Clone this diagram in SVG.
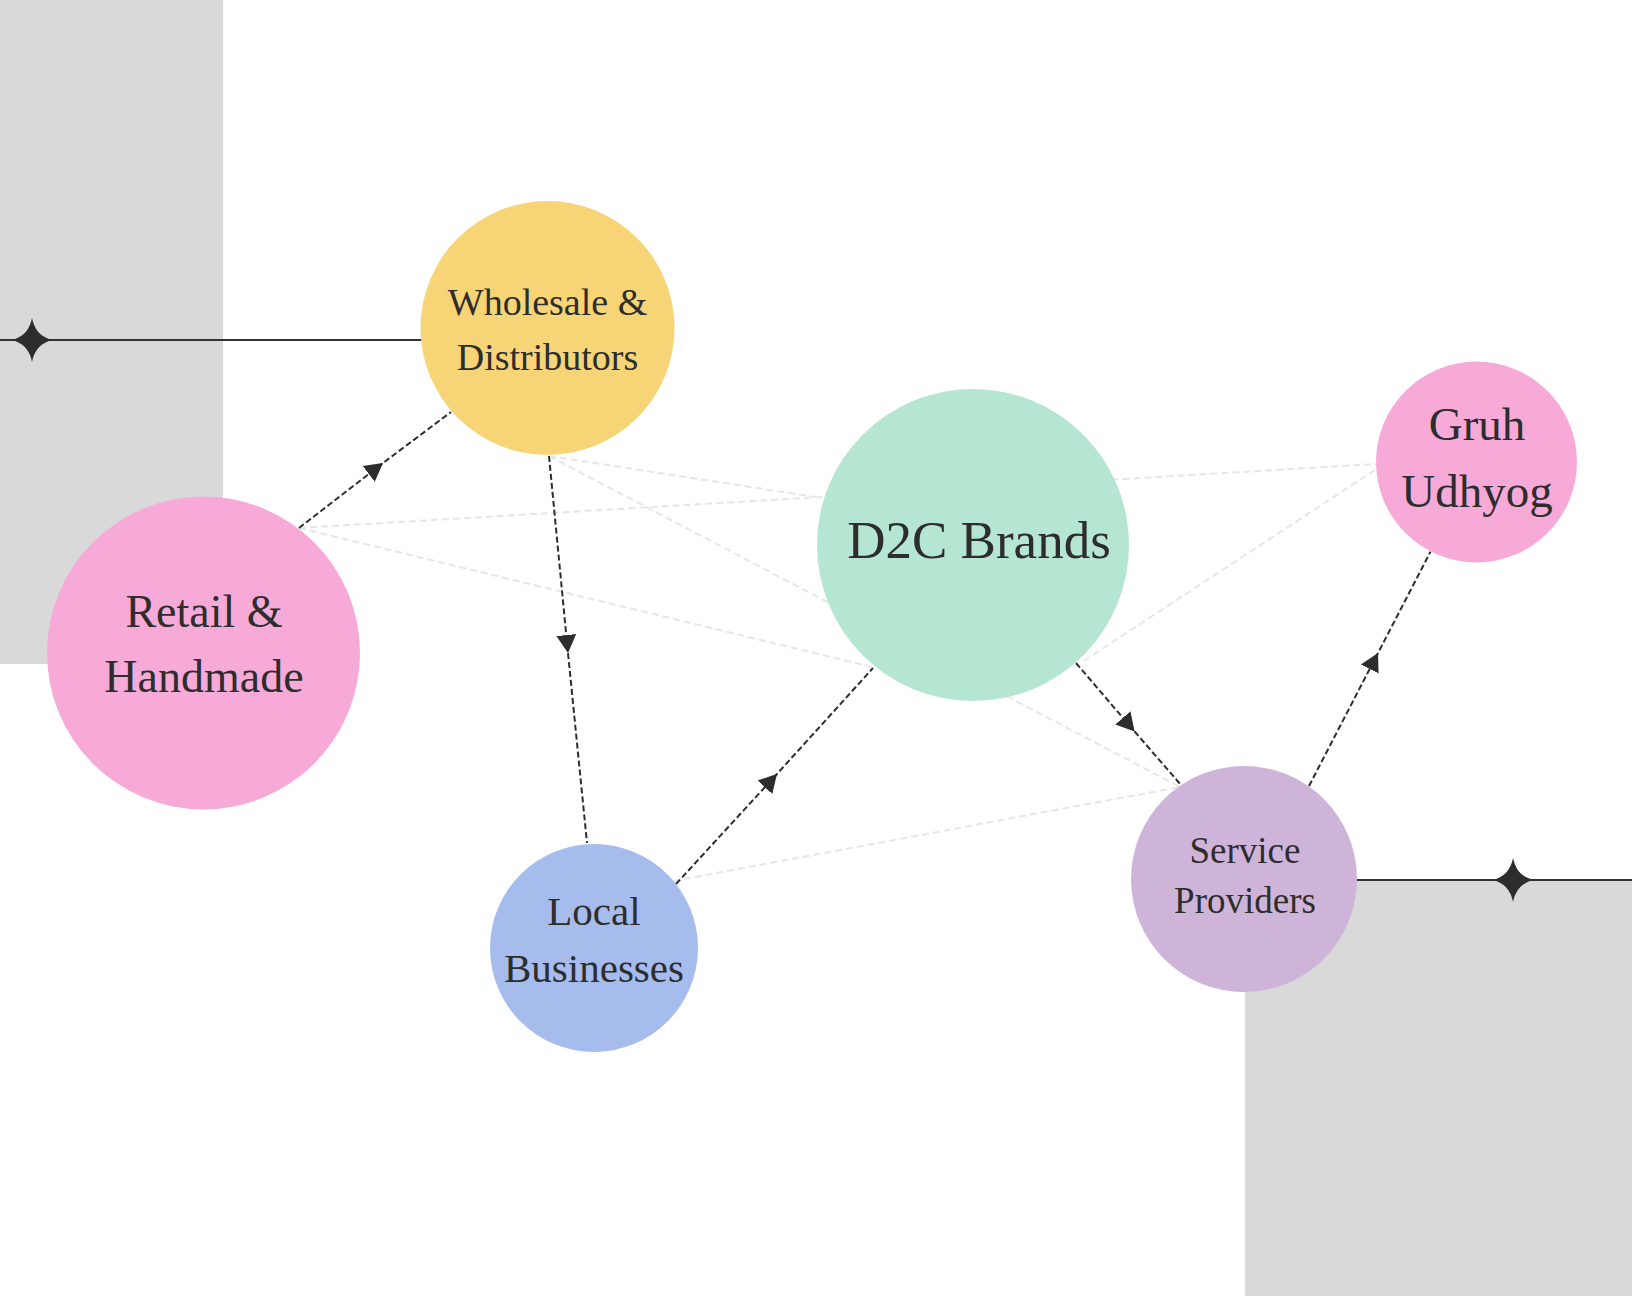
<svg xmlns="http://www.w3.org/2000/svg" width="1632" height="1296" viewBox="0 0 1632 1296">
  <style>
    .bg { fill: #d9d9d9; }
    .deco { stroke: #333333; stroke-width: 2; fill: none; }
    .star { fill: #2d2d2d; }
    .faint { stroke: #e6e6e6; stroke-width: 2; stroke-dasharray: 7 4; fill: none; }
    .arrow { stroke: #2d2d2d; stroke-width: 2; stroke-dasharray: 6 3; fill: none; marker-mid: url(#head); }
    .label { font-family: "Liberation Serif", "DejaVu Serif", serif; fill: #2d2d2d; text-anchor: middle; }
  </style>
  <defs>
    <marker id="head" markerUnits="userSpaceOnUse" markerWidth="20" markerHeight="22" refX="18" refY="10" orient="auto" viewBox="0 0 20 20">
      <path d="M0,0 L18,10 L0,20 Z" fill="#2d2d2d"/>
    </marker>
    <path id="starShape" d="M0,-22 Q3.5,-3.5 21,0 Q3.5,3.5 0,22 Q-3.5,3.5 -21,0 Q-3.5,-3.5 0,-22 Z"/>
  </defs>

  <rect class="bg" x="0" y="0" width="223" height="664"/>
  <rect class="bg" x="1245" y="881" width="387" height="415"/>

  <line class="deco" x1="0" y1="340" x2="425" y2="340"/>
  <use href="#starShape" class="star" x="32" y="340"/>
  <line class="deco" x1="1352" y1="880" x2="1632" y2="880"/>
  <use href="#starShape" class="star" x="1513" y="880"/>

  <g id="connectors">
    <path class="faint" d="M549,456 L822,498"/>
    <path class="faint" d="M549,456 L1180,787"/>
    <path class="faint" d="M299,528 L1376,464"/>
    <path class="faint" d="M299,528 L872,667"/>
    <path class="faint" d="M1375,470 L1082,662"/>
    <path class="faint" d="M673,881 L1180,787"/>

    <path class="arrow" d="M299,528 L383,463 L451,412"/>
    <path class="arrow" d="M549,456 L568,653 L587,843"/>
    <path class="arrow" d="M676,884 L777,774 L873,668"/>
    <path class="arrow" d="M1076,663 L1134.6,731.5 L1181,785"/>
    <path class="arrow" d="M1309,786 L1378,653 L1430.5,551.7"/>
  </g>

  <g id="wholesale">
    <circle cx="547.5" cy="328" r="127" fill="#f7d475"/>
    <text class="label" x="547.5" y="315" font-size="38">Wholesale &amp;</text>
    <text class="label" x="547.5" y="370" font-size="38">Distributors</text>
  </g>

  <g id="retail">
    <circle cx="203.5" cy="653" r="156.5" fill="#f7aad8"/>
    <text class="label" x="204" y="627" font-size="46">Retail &amp;</text>
    <text class="label" x="204" y="692" font-size="46">Handmade</text>
  </g>

  <g id="d2c">
    <circle cx="973" cy="545" r="156" fill="#b5e6d1"/>
    <text class="label" x="979" y="558" font-size="53">D2C Brands</text>
  </g>

  <g id="gruh">
    <circle cx="1476.5" cy="462" r="100.5" fill="#f7aad8"/>
    <text class="label" x="1477" y="440" font-size="47">Gruh</text>
    <text class="label" x="1477" y="507" font-size="47">Udhyog</text>
  </g>

  <g id="local">
    <circle cx="594" cy="948" r="104" fill="#a6bcec"/>
    <text class="label" x="594" y="925" font-size="41">Local</text>
    <text class="label" x="594" y="982" font-size="41">Businesses</text>
  </g>

  <g id="service">
    <circle cx="1244" cy="879" r="113" fill="#cfb4da"/>
    <text class="label" x="1245" y="863" font-size="37">Service</text>
    <text class="label" x="1245" y="913" font-size="37">Providers</text>
  </g>
</svg>
